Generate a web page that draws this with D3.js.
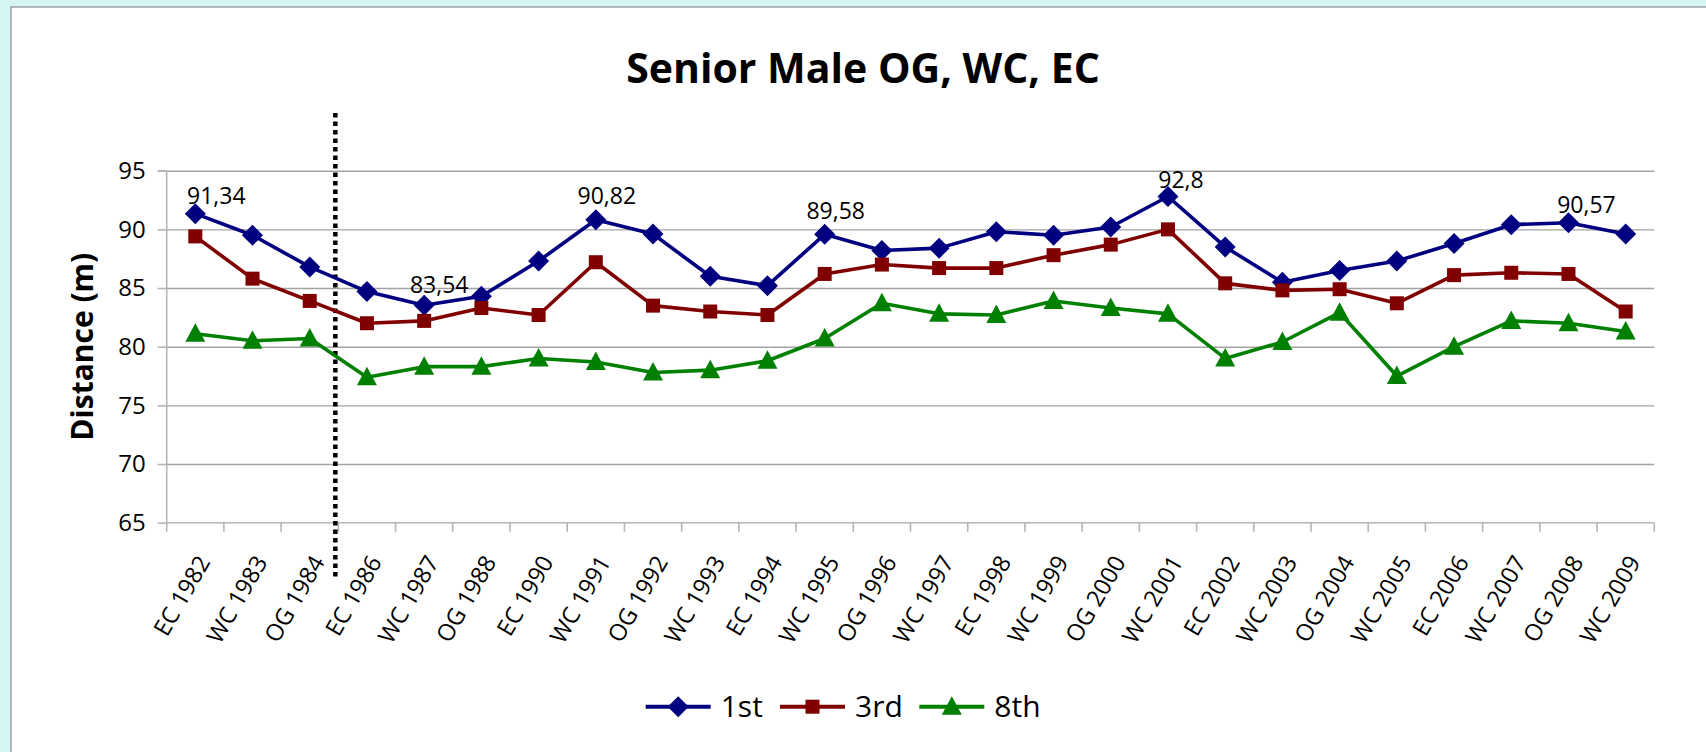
<!DOCTYPE html>
<html><head><meta charset="utf-8">
<script src="https://cdn.jsdelivr.net/npm/d3@7"></script>
<style>
html,body{margin:0;padding:0;background:#d5f5f2;}
svg{display:block;font-family:"Open Sans",sans-serif;}
</style></head>
<body>
<svg id="chart" width="1706" height="752"></svg>
<script>
const categories = ["EC 1982","WC 1983","OG 1984","EC 1986","WC 1987","OG 1988","EC 1990","WC 1991","OG 1992","WC 1993","EC 1994","WC 1995","OG 1996","WC 1997","EC 1998","WC 1999","OG 2000","WC 2001","EC 2002","WC 2003","OG 2004","WC 2005","EC 2006","WC 2007","OG 2008","WC 2009"];
const first  = [91.34,89.5,86.8,84.7,83.54,84.3,87.3,90.82,89.6,86.0,85.2,89.58,88.2,88.4,89.8,89.5,90.2,92.8,88.5,85.5,86.5,87.3,88.8,90.4,90.57,89.6];
const third  = [89.4,85.8,83.9,82.0,82.2,83.3,82.7,87.2,83.5,83.0,82.7,86.2,87.0,86.7,86.7,87.8,88.7,90.0,85.4,84.8,84.9,83.7,86.1,86.3,86.2,83.0];
const eighth = [81.1,80.5,80.7,77.4,78.3,78.3,79.0,78.7,77.8,78.0,78.8,80.7,83.7,82.8,82.7,83.9,83.3,82.8,79.0,80.4,82.9,77.5,80.0,82.2,82.0,81.3];
const seriesNames = ["1st","3rd","8th"];
const yTicks = [65,70,75,80,85,90,95];
const labelledIdx = [0,4,7,11,17,24];
const title = "Senior Male OG, WC, EC";
const yTitle = "Distance (m)";
const dividerAfter = "OG 1984";

// styling / layout (not data)
const labelNudge = {0:[21,-10],4:[15,-12],7:[11,-16],11:[11,-15],17:[13,-9],24:[18,-10]};
const colors = ["#000080","#800000","#008000"];
const shapes = ["diamond","square","triangle"];

const svg = d3.select("#chart");
const L = 166.7, R = 1654.3, T = 170.7, B = 522.7;

svg.append("rect").attr("x",11).attr("y",7).attr("width",1720).attr("height",760)
  .attr("fill","#fff").attr("stroke","#8c8c8c").attr("stroke-width",1.2);

const x = d3.scaleBand().domain(categories).range([L,R]);
const y = d3.scaleLinear().domain([65,95]).range([B,T]);

// gridlines
svg.append("g").attr("transform",`translate(${L},0)`)
  .call(d3.axisLeft(y).tickValues(yTicks.filter(t=>t>65)).tickSize(-(R-L)).tickFormat(""))
  .call(g=>g.select(".domain").remove())
  .call(g=>g.selectAll("line").attr("stroke","#a3a3a3").attr("stroke-width",1.4));

// y axis
const ya = svg.append("g").attr("transform",`translate(${L},0)`)
  .call(d3.axisLeft(y).tickValues(yTicks).tickSize(9).tickPadding(12).tickFormat(d3.format("d")));
ya.select(".domain").attr("stroke","#b5b5b5").attr("stroke-width",1.6).attr("d",`M-9,${T}H0V${B}`);
ya.selectAll("line").attr("stroke","#b5b5b5").attr("stroke-width",1.6);
ya.selectAll("text").attr("font-size",24).attr("fill","#000").attr("font-family","Open Sans");

// x axis line + boundary ticks
const xa = svg.append("g");
xa.append("line").attr("x1",L).attr("x2",R).attr("y1",y(65)).attr("y2",y(65))
  .attr("stroke","#b5b5b5").attr("stroke-width",1.6);
const bounds = categories.map(c=>x(c)).concat([x.range()[1]]);
xa.selectAll("line.tk").data(bounds).join("line").attr("class","tk")
  .attr("x1",d=>d).attr("x2",d=>d).attr("y1",y(65)).attr("y2",y(65)+9)
  .attr("stroke","#b5b5b5").attr("stroke-width",1.6);
xa.selectAll("text").data(categories).join("text")
  .attr("transform",d=>`translate(${x(d)+x.bandwidth()/2+8.5},${y(65)+35}) rotate(-60)`)
  .attr("text-anchor","end").attr("dy","0.35em")
  .attr("font-size",23.5).attr("fill","#000").text(d=>d);

// dotted divider
const dx = x(dividerAfter)+x.bandwidth()-3;
svg.append("line").attr("x1",dx).attr("x2",dx).attr("y1",113).attr("y2",577)
  .attr("stroke","#000").attr("stroke-width",4.5).attr("stroke-dasharray","4.5 4");

// series
const allSeries = [first,third,eighth];
const cx = i => x(categories[i])+x.bandwidth()/2;
const line = d3.line().x((d,i)=>cx(i)).y(d=>y(d));
function markerPath(shape){
  if(shape==="diamond") return "M0,-10.5L10.5,0L0,10.5L-10.5,0Z";
  if(shape==="square") return "M-7,-7H7V7H-7Z";
  return "M0,-10.5L10,8L-10,8Z";
}
allSeries.forEach((s,k)=>{
  const g = svg.append("g");
  g.append("path").datum(s).attr("d",line).attr("fill","none")
    .attr("stroke",colors[k]).attr("stroke-width",3.6).attr("stroke-linejoin","round");
  g.selectAll("path.m").data(s).join("path").attr("class","m")
    .attr("d",markerPath(shapes[k])).attr("fill",colors[k])
    .attr("transform",(d,i)=>`translate(${cx(i)},${y(d)})`);
});

// data labels
svg.append("g").selectAll("text").data(labelledIdx).join("text")
  .attr("x",i=>cx(i)+labelNudge[i][0]).attr("y",i=>y(first[i])+labelNudge[i][1])
  .attr("text-anchor","middle").attr("font-size",23).attr("fill","#000")
  .text(i=>String(first[i]).replace(".",","));

// title
svg.append("text").attr("x",863).attr("y",83).attr("text-anchor","middle")
  .attr("font-size",41).attr("font-weight","bold").attr("fill","#000").text(title);

// y title
svg.append("text").attr("transform",`translate(93,${(T+B)/2}) rotate(-90)`)
  .attr("text-anchor","middle").attr("font-size",30).attr("font-weight","bold")
  .attr("fill","#000").text(yTitle);

// legend
const legX = [645.7,780,919.3], legY = 706.7;
seriesNames.forEach((n,k)=>{
  const g = svg.append("g").attr("transform",`translate(${legX[k]},${legY})`);
  g.append("line").attr("x1",0).attr("x2",65).attr("stroke",colors[k]).attr("stroke-width",4);
  g.append("path").attr("d",markerPath(shapes[k])).attr("fill",colors[k]).attr("transform","translate(32.5,0)");
  g.append("text").attr("x",75).attr("dy","0.35em").attr("font-size",30).attr("fill","#000").text(n);
});
</script>
</body></html>
